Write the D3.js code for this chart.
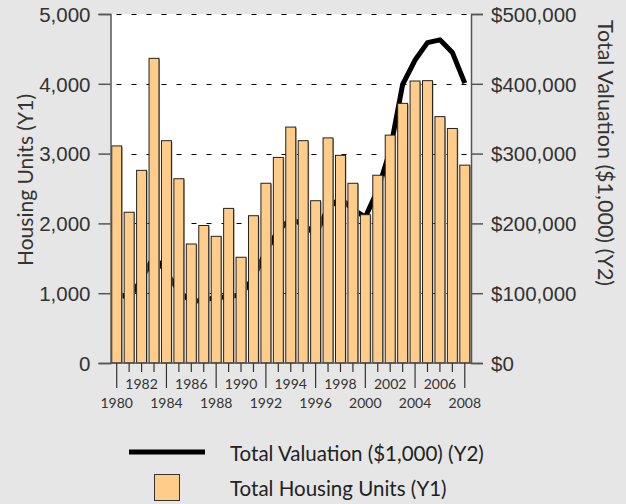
<!DOCTYPE html>
<html>
<head>
<meta charset="utf-8">
<script src="https://cdn.jsdelivr.net/npm/d3@7"></script>
<style>
  html, body { margin: 0; padding: 0; background: #e6e6e6; }
  svg { display: block; font-family: Lato, 'Open Sans', sans-serif; }
</style>
</head>
<body>
<div id="vis"></div>
<script>
// Datos
const YEARS = d3.range(1980, 2009);
const HOUSING_UNITS = [
  3110, 2160, 2760, 4365, 3185, 2640, 1705, 1970, 1815, 2215,
  1515, 2110, 2575, 2945, 3380, 3185, 2325, 3225, 2975, 2575,
  2125, 2690, 3265, 3720, 4040, 4045, 3530, 3360, 2835,
];
const VALUATION = [
  100000, 93000, 120000, 153000, 130000, 103000, 88000, 90000, 94000, 95000,
  98000, 122000, 160000, 190000, 206000, 199000, 184000, 222000, 236000, 220000,
  209000, 248000, 305000, 399000, 434000, 459000, 463000, 445000, 401000,
];
const Y1_TICKS = [0, 1000, 2000, 3000, 4000, 5000];
const Y2_TICKS = [0, 100000, 200000, 300000, 400000, 500000];
const LEGEND_LABELS = ['Total Valuation ($1,000) (Y2)', 'Total Housing Units (Y1)'];

const WIDTH_VIS = 626;
const HEIGHT_VIS = 504;
const MARGIN = { top: 14, bottom: 141, left: 110.5, right: 155 };

const SVG = d3.select('#vis').append('svg')
  .attr('width', WIDTH_VIS)
  .attr('height', HEIGHT_VIS);

const x = d3.scaleBand()
  .domain(YEARS)
  .range([MARGIN.left, WIDTH_VIS - MARGIN.right])
  .paddingInner(0.2)
  .paddingOuter(0.1);

const y1 = d3.scaleLinear().domain([0, 5000]).range([HEIGHT_VIS - MARGIN.bottom, MARGIN.top]);
const y2 = d3.scaleLinear().domain([0, 500000]).range([HEIGHT_VIS - MARGIN.bottom, MARGIN.top]);

const plotLeft = MARGIN.left;
const plotRight = WIDTH_VIS - MARGIN.right;
const plotBottom = y1(0);

// fondo blanco del area de trazado
SVG.append('rect')
  .attr('x', plotLeft)
  .attr('y', MARGIN.top)
  .attr('width', plotRight - plotLeft)
  .attr('height', plotBottom - MARGIN.top)
  .attr('fill', '#fff');

// lineas de grilla punteadas
SVG.append('g')
  .selectAll('line')
  .data(Y1_TICKS.filter((d) => d > 0))
  .join('line')
  .attr('x1', plotLeft)
  .attr('x2', plotRight)
  .attr('y1', (d) => Math.round(y1(d)) + 0.5)
  .attr('y2', (d) => Math.round(y1(d)) + 0.5)
  .attr('stroke', '#000')
  .attr('stroke-width', 1)
  .attr('stroke-dasharray', '5,10')
  .attr('stroke-dashoffset', -6);

// linea de valuacion (queda detras de las barras)
const line = d3.line()
  .x((d, i) => x(YEARS[i]) + x.bandwidth() / 2)
  .y((d) => y2(d));

SVG.append('path')
  .datum(VALUATION)
  .attr('d', line)
  .attr('fill', 'none')
  .attr('stroke', '#000')
  .attr('stroke-width', 5)
  .attr('stroke-linejoin', 'round');

// barras
const bars = SVG.append('g');
bars.selectAll('rect.shadow')
  .data(HOUSING_UNITS)
  .join('rect')
  .attr('class', 'shadow')
  .attr('x', (d, i) => x(YEARS[i]) + 1)
  .attr('y', (d) => y1(d) + 1)
  .attr('width', x.bandwidth())
  .attr('height', (d) => plotBottom - y1(d) - 1)
  .attr('fill', '#999');
bars.selectAll('rect.bar')
  .data(HOUSING_UNITS)
  .join('rect')
  .attr('class', 'bar')
  .attr('x', (d, i) => x(YEARS[i]))
  .attr('y', (d) => y1(d))
  .attr('width', x.bandwidth())
  .attr('height', (d) => plotBottom - y1(d))
  .attr('fill', '#ffcc8a')
  .attr('stroke', '#222')
  .attr('stroke-width', 1);

// eje izquierdo
const axisLeft = SVG.append('g')
  .attr('transform', `translate(${plotLeft},0)`)
  .call(d3.axisLeft(y1).tickValues(Y1_TICKS).tickFormat(d3.format(',')).tickSize(12).tickPadding(8));

// eje derecho
const axisRight = SVG.append('g')
  .attr('transform', `translate(${plotRight},0)`)
  .call(d3.axisRight(y2).tickValues(Y2_TICKS).tickFormat((d) => '$' + d3.format(',')(d)).tickSize(12).tickPadding(8));

[axisLeft, axisRight].forEach((g) => {
  g.select('.domain').attr('stroke', '#555').attr('stroke-width', 1.5);
  g.selectAll('.tick line').attr('stroke', '#555').attr('stroke-width', 1.5);
  g.selectAll('.tick text')
    .attr('fill', '#333')
    .attr('font-size', 20.5)
    .attr('dy', '0.36em');
});

// linea base del eje x
SVG.append('line')
  .attr('x1', plotLeft)
  .attr('x2', plotRight)
  .attr('y1', plotBottom)
  .attr('y2', plotBottom)
  .attr('stroke', '#555')
  .attr('stroke-width', 1.5);

// eje x: marcas largas cada 4 anios
const xAxis = SVG.append('g')
  .attr('transform', `translate(0,${plotBottom})`);
xAxis.selectAll('line')
  .data(YEARS)
  .join('line')
  .attr('x1', (d) => x(d) + x.bandwidth() / 2)
  .attr('x2', (d) => x(d) + x.bandwidth() / 2)
  .attr('y1', 0)
  .attr('y2', (d) => ((d - 1980) % 4 === 0 ? 25 : 9))
  .attr('stroke', '#333')
  .attr('stroke-width', 1.2);
xAxis.selectAll('text')
  .data(YEARS.filter((d) => d % 2 === 0))
  .join('text')
  .attr('x', (d) => x(d) + x.bandwidth() / 2)
  .attr('y', (d) => ((d - 1980) % 4 === 0 ? 45 : 26))
  .attr('text-anchor', 'middle')
  .attr('font-size', 14)
  .attr('fill', '#333')
  .text((d) => d);

// titulos de ejes
SVG.append('text')
  .attr('transform', `translate(33,${180}) rotate(-90)`)
  .attr('text-anchor', 'middle')
  .attr('font-size', 21)
  .attr('fill', '#333')
  .text('Housing Units (Y1)');

SVG.append('text')
  .attr('transform', `translate(598,${153}) rotate(90)`)
  .attr('text-anchor', 'middle')
  .attr('font-size', 21.5)
  .attr('fill', '#333')
  .text('Total Valuation ($1,000) (Y2)');

// leyenda
const legend = SVG.append('g');
legend.append('line')
  .attr('x1', 129)
  .attr('x2', 205)
  .attr('y1', 452)
  .attr('y2', 452)
  .attr('stroke', '#000')
  .attr('stroke-width', 5);
legend.append('rect')
  .attr('x', 154.5)
  .attr('y', 474.5)
  .attr('width', 25)
  .attr('height', 26)
  .attr('fill', '#ffcc8a')
  .attr('stroke', '#333')
  .attr('stroke-width', 1);
legend.selectAll('text')
  .data(LEGEND_LABELS)
  .join('text')
  .attr('x', 230)
  .attr('y', (d, i) => (i === 0 ? 461 : 496))
  .attr('font-size', 20.5)
  .attr('fill', '#222')
  .text((d) => d);
</script>
</body>
</html>
